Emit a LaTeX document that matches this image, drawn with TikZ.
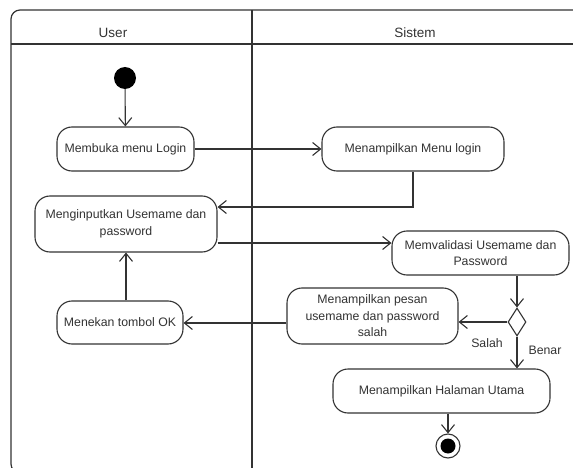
\documentclass[tikz,border=0pt]{standalone}
\usepackage{fontspec}
\setmainfont{Liberation Sans}
\usetikzlibrary{arrows.meta,shapes.geometric}
\definecolor{ln}{HTML}{333333}
\tikzset{
  act/.style={draw=ln, line width=1.1pt, rounded corners=15pt, fill=white, inner sep=0pt,
    align=center, text=ln, font=\fontsize{12.3}{16.5}\selectfont},
  arr/.style={draw=ln, line width=1.1pt, -{Straight Barb[length=8pt,width=13pt,line width=1.1pt]}},
  lane/.style={draw=ln, line width=1.2pt},
  hdr/.style={text=ln, font=\fontsize{13.5}{16}\selectfont},
  lbl/.style={text=ln, font=\fontsize{12.3}{15}\selectfont},
}
\begin{document}
\begin{tikzpicture}[x=1pt,y=-1pt]
\useasboundingbox (0,0) rectangle (573,468);
\clip (0,0) rectangle (573,468);
% frame
\draw[lane, rounded corners=9pt] (11,10) rectangle (600,473);
\draw[lane] (11,44) -- (573,44);
\draw[lane] (252,10) -- (252,468);
\node[hdr] (hu) at (113,33) {User};
\node[hdr] (hs) at (415,33) {Sistem};
% start
\node[circle, fill=black, minimum size=22pt, inner sep=0pt] (start) at (125,78) {};
% activities
\node[act, minimum width=137pt, minimum height=44pt] (buka) at (125.5,149) {Membuka menu Login};
\node[act, minimum width=182pt, minimum height=44pt] (menu) at (413,149) {Menampilkan Menu login};
\node[act, minimum width=182pt, minimum height=56pt] (input) at (126,224) {Menginputkan Usemame dan\\password};
\node[act, minimum width=177pt, minimum height=44pt] (valid) at (480.5,253) {Memvalidasi Usemame dan\\Password};
\node[act, minimum width=171pt, minimum height=56pt] (pesan) at (372.5,316) {Menampilkan pesan\\usemame dan password\\salah};
\node[act, minimum width=126pt, minimum height=43pt] (tombol) at (120,322.5) {Menekan tombol OK};
\node[act, minimum width=217pt, minimum height=44pt] (utama) at (441.5,391) {Menampilkan Halaman Utama};
\node[diamond, draw=ln, line width=1.1pt, fill=white, minimum width=18pt, minimum height=28pt, inner sep=0pt] (dec) at (517,322) {};
% end
\node[circle, draw=ln, line width=1.1pt, fill=white, minimum size=24pt, inner sep=0pt] (end) at (448,446) {};
\node[circle, fill=black, minimum size=15pt, inner sep=0pt] (endin) at (448,446) {};
% flows
\draw[arr] (start) -- (buka);
\draw[arr] (buka) -- (menu);
\draw[arr] (menu.south) |- ([yshift=17pt]input.east);
\draw[arr] ([yshift=-19pt]input.east) -- ([yshift=-19pt]input.east -| valid.west);
\draw[arr] (valid.south -| dec.north) -- (dec.north);
\draw[arr] (dec.west) -- (dec.west -| pesan.east);
\draw[arr] ([yshift=-1pt]pesan.west |- dec.west) -- ([yshift=-1pt]tombol.east |- dec.west);
\draw[arr] (tombol.north -| input.south) -- (input.south);
\draw[arr] (dec.south) -- (dec.south |- utama.north);
\draw[arr] (utama.south -| end) -- (end.north);
\node[lbl] (salah) at (487,343) {Salah};
\node[lbl] (benar) at (545,350) {Benar};
\end{tikzpicture}
\end{document}
